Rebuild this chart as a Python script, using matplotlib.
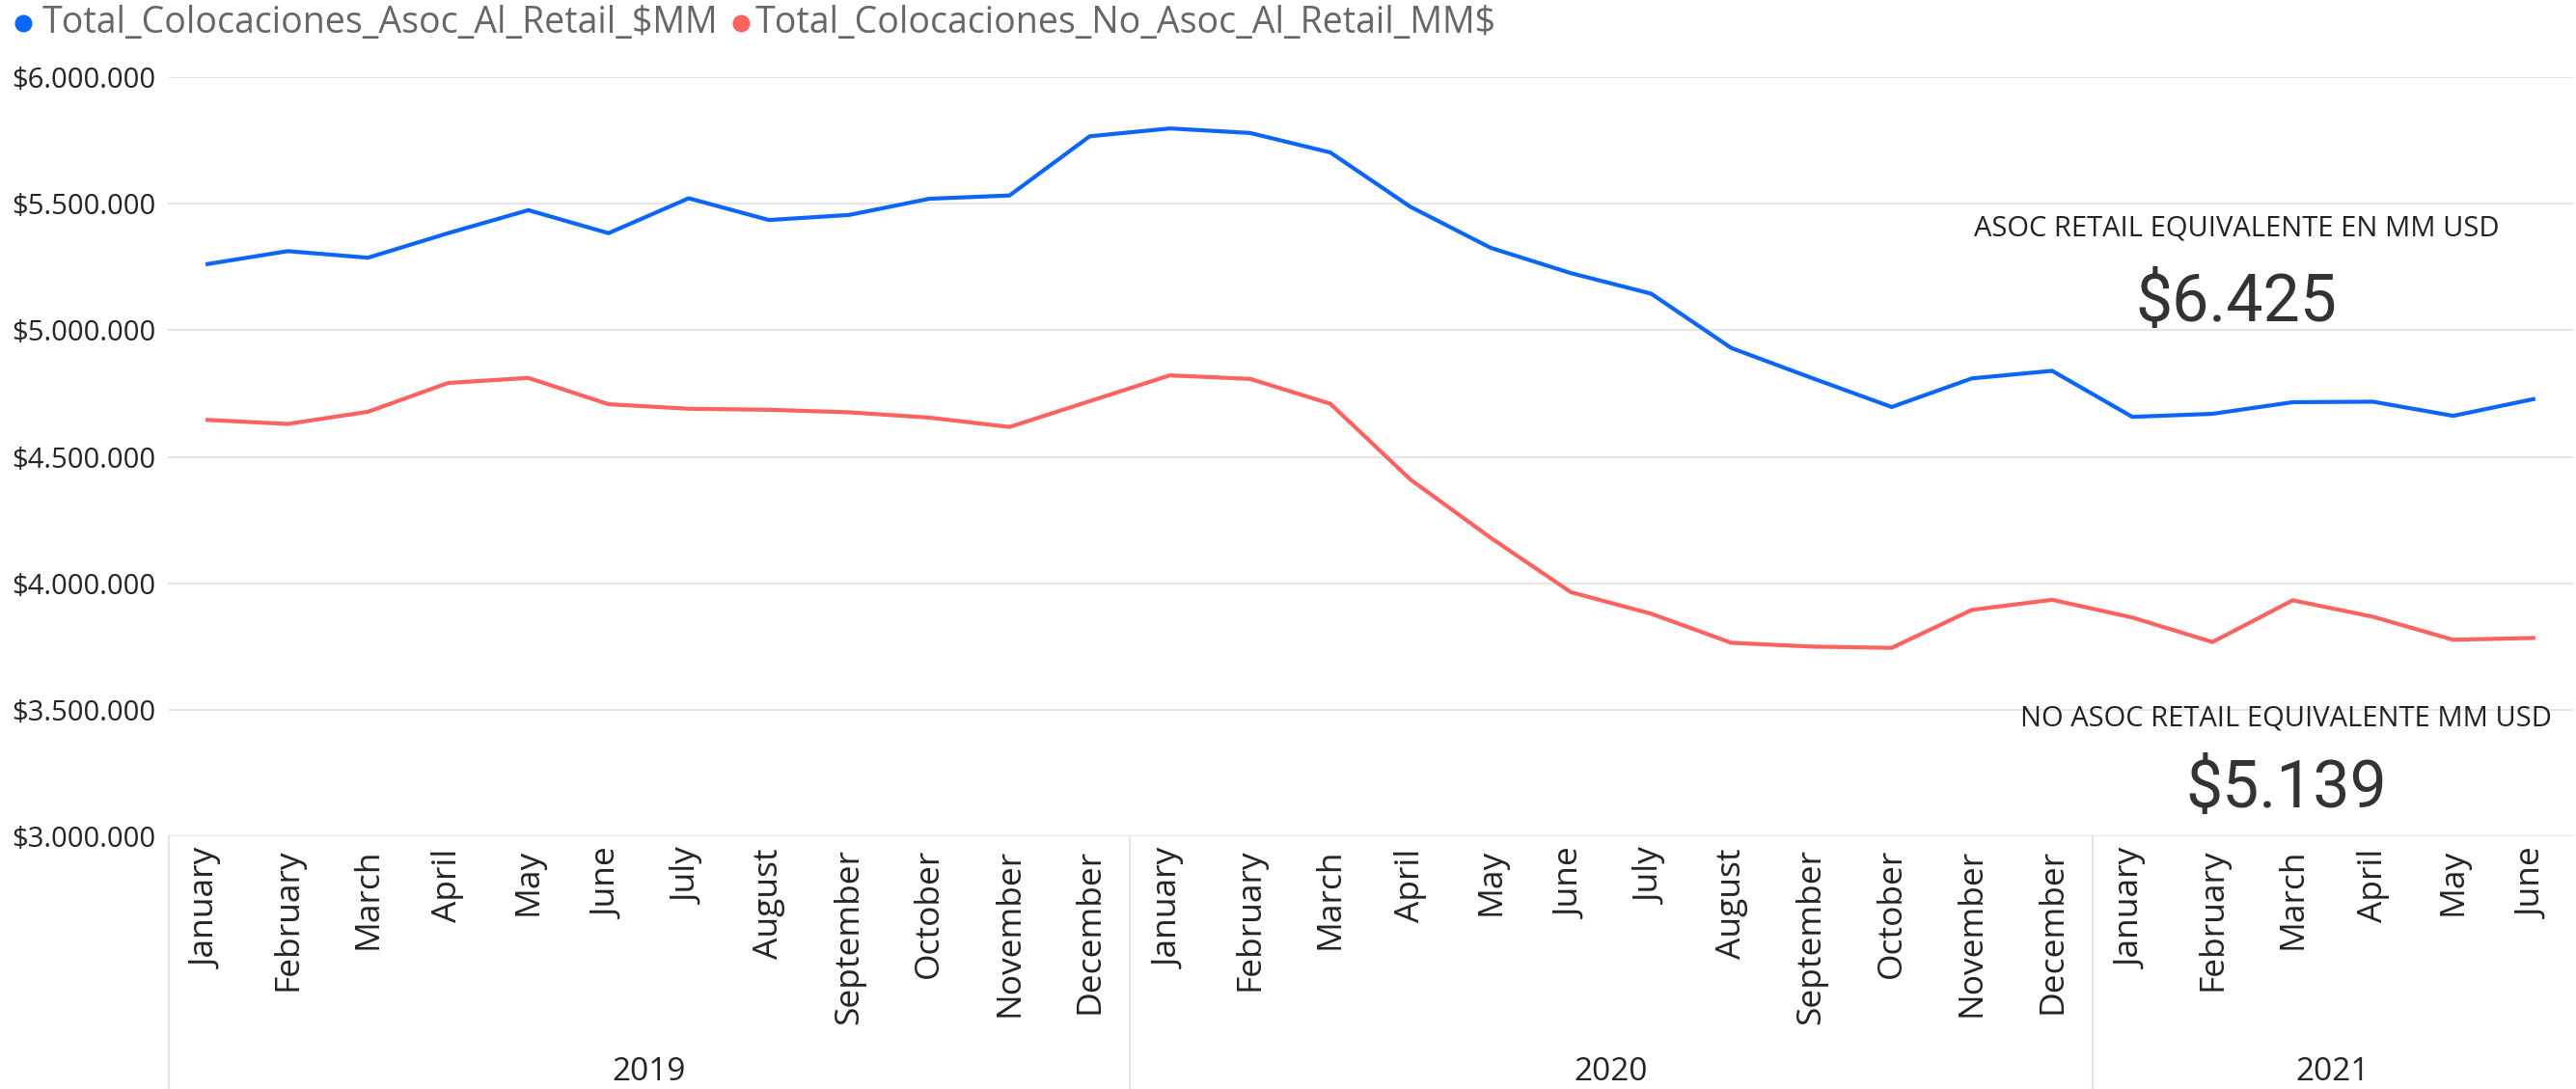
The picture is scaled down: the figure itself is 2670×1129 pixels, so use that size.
import matplotlib.pyplot as plt
from matplotlib.lines import Line2D

months = ["January", "February", "March", "April", "May", "June", "July",
          "August", "September", "October", "November", "December"]
years = ["2019", "2020", "2021"]
month_labels = months + months + months[:6]

asoc = [5262000, 5313000, 5287000, 5384000, 5475000, 5384000, 5522000, 5436000,
        5456000, 5520000, 5533000, 5767000, 5798000, 5780000, 5703000, 5488000,
        5326000, 5226000, 5145000, 4930000, 4812000, 4697000, 4810000, 4840000,
        4658000, 4670000, 4716000, 4718000, 4662000, 4728000]
no_asoc = [4646000, 4630000, 4678000, 4792000, 4812000, 4708000, 4690000, 4686000,
           4676000, 4655000, 4618000, 4720000, 4822000, 4808000, 4710000, 4410000,
           4180000, 3965000, 3880000, 3765000, 3750000, 3745000, 3895000, 3935000,
           3865000, 3768000, 3933000, 3868000, 3777000, 3784000]

blue = "#0B66F7"
red = "#FD625E"

fig = plt.figure(figsize=(26.7, 11.29), dpi=100)
ax = fig.add_axes([0.065, 0.232, 0.934, 0.697])

x = list(range(len(asoc)))
ax.plot(x, asoc, color=blue, lw=3, solid_joinstyle="round")
ax.plot(x, no_asoc, color=red, lw=3, solid_joinstyle="round")

ax.set_xlim(-0.5, len(x) - 0.5)
ax.set_ylim(3000000, 6000000)
yt = [3000000, 3500000, 4000000, 4500000, 5000000, 5500000, 6000000]
ax.set_yticks(yt)
ax.set_yticklabels(["$" + format(v, ",").replace(",", ".") for v in yt],
                   fontsize=21, family="Open Sans", color="#252423")
ax.grid(axis="y", color="#E6E6E6", lw=1.5)
ax.set_axisbelow(True)
for s in ax.spines.values():
    s.set_visible(False)
ax.tick_params(axis="y", length=0, pad=9)

ax.set_xticks(x)
ax.set_xticklabels(month_labels, rotation=90, fontsize=25.5, family="Open Sans",
                   color="#252423")
ax.tick_params(axis="x", length=0, pad=9)

# year hierarchy below the months
tr = ax.get_xaxis_transform()
for bx in [-0.48, 11.5, 23.5]:
    ax.plot([bx, bx], [0, -0.34], transform=tr, color="#E3E3E3", lw=1.5, clip_on=False)
year_mid = [5.5, 17.5, 26.5]
for yx, yl in zip(year_mid, years):
    ax.text(yx, -0.31, yl, transform=tr, ha="center", va="center",
            fontsize=24, family="Open Sans", color="#252423")

# legend
fig.add_artist(Line2D([24 / 2670], [1 - 24 / 1129], marker="o", ms=12, color=blue,
                      transform=fig.transFigure))
fig.text(44 / 2670, 1 - 24 / 1129, "Total_Colocaciones_Asoc_Al_Retail_$MM",
         fontsize=27, family="Open Sans", color="#666666", va="center")
fig.add_artist(Line2D([768 / 2670], [1 - 24 / 1129], marker="o", ms=12, color=red,
                      transform=fig.transFigure))
fig.text(783 / 2670, 1 - 24 / 1129, "Total_Colocaciones_No_Asoc_Al_Retail_MM$",
         fontsize=27, family="Open Sans", color="#666666", va="center")

# card values
fig.text(2318 / 2670, 1 - 237 / 1129, "ASOC RETAIL EQUIVALENTE EN MM USD",
         fontsize=21, family="Open Sans", color="#222222", ha="center", va="center")
fig.text(2318 / 2670, 1 - 314 / 1129, "$6.425",
         fontsize=49, family="Roboto", color="#333333", ha="center", va="center")
fig.text(2369 / 2670, 1 - 745 / 1129, "NO ASOC RETAIL EQUIVALENTE MM USD",
         fontsize=21, family="Open Sans", color="#222222", ha="center", va="center")
fig.text(2370 / 2670, 1 - 818 / 1129, "$5.139",
         fontsize=49, family="Roboto", color="#333333", ha="center", va="center")

fig.savefig("out.png", dpi=100)
